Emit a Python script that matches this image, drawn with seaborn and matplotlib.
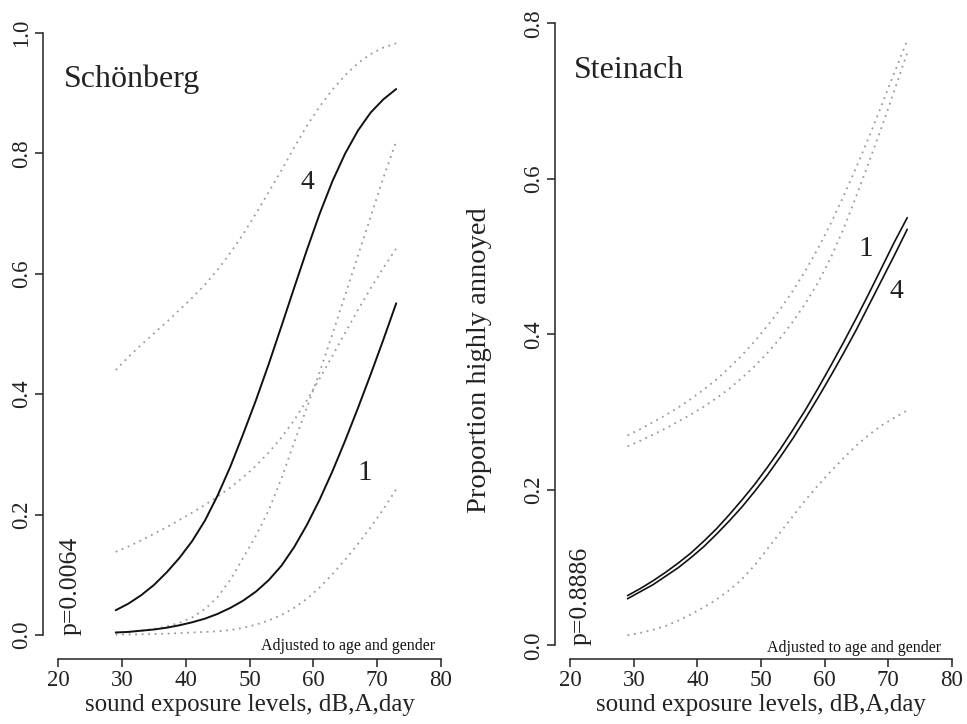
import numpy as np
import pandas as pd
import seaborn as sns
import matplotlib
matplotlib.use("Agg")
import matplotlib.pyplot as plt

# sound exposure levels (dB,A,day)
levels = [29, 31, 33, 35, 37, 39, 41, 43, 45, 47, 49, 51,
          53, 55, 57, 59, 61, 63, 65, 67, 69, 71, 73]

# Schönberg: predicted proportions + confidence bands
sch_4 = [0.041, 0.052, 0.066, 0.083, 0.104, 0.128, 0.156, 0.19, 0.232, 0.28, 0.334, 0.39,
         0.45, 0.513, 0.577, 0.64, 0.70, 0.754, 0.80, 0.838, 0.868, 0.89, 0.907]
sch_4_hi = [0.440, 0.462, 0.482, 0.501, 0.520, 0.540, 0.560, 0.582, 0.607, 0.635, 0.666, 0.700,
            0.736, 0.772, 0.810, 0.846, 0.878, 0.906, 0.930, 0.950, 0.965, 0.976, 0.983]
sch_4_lo = [0.138, 0.147, 0.157, 0.168, 0.179, 0.191, 0.203, 0.216, 0.230, 0.245, 0.262, 0.281,
            0.303, 0.328, 0.357, 0.390, 0.426, 0.464, 0.502, 0.540, 0.576, 0.610, 0.642]
sch_1 = [0.004, 0.005, 0.007, 0.009, 0.012, 0.016, 0.021, 0.027, 0.035, 0.045, 0.057, 0.072,
         0.091, 0.115, 0.146, 0.183, 0.225, 0.272, 0.323, 0.377, 0.433, 0.491, 0.551]
sch_1_hi = [0.004, 0.005, 0.007, 0.010, 0.014, 0.020, 0.029, 0.043, 0.063, 0.092, 0.128, 0.165,
            0.207, 0.260, 0.320, 0.378, 0.437, 0.500, 0.565, 0.630, 0.695, 0.760, 0.820]
sch_1_lo = [0.0005, 0.0008, 0.001, 0.0015, 0.002, 0.003, 0.004, 0.005, 0.006, 0.008, 0.012, 0.017,
            0.024, 0.033, 0.045, 0.060, 0.079, 0.101, 0.125, 0.151, 0.179, 0.209, 0.242]

# Steinach
ste_1 = [0.064, 0.073, 0.083, 0.094, 0.106, 0.119, 0.134, 0.15, 0.168, 0.187, 0.207, 0.229,
         0.252, 0.277, 0.303, 0.331, 0.36, 0.39, 0.421, 0.453, 0.486, 0.519, 0.55]
ste_4 = [0.060, 0.069, 0.078, 0.089, 0.1, 0.113, 0.127, 0.143, 0.16, 0.178, 0.198, 0.219,
         0.242, 0.266, 0.292, 0.319, 0.347, 0.376, 0.406, 0.438, 0.47, 0.502, 0.535]
ste_hi_a = [0.270, 0.278, 0.287, 0.296, 0.306, 0.317, 0.329, 0.342, 0.357, 0.373, 0.391, 0.411,
            0.432, 0.456, 0.482, 0.511, 0.543, 0.578, 0.615, 0.654, 0.695, 0.737, 0.778]
ste_hi_b = [0.256, 0.263, 0.271, 0.279, 0.288, 0.297, 0.307, 0.318, 0.330, 0.344, 0.359, 0.376,
            0.395, 0.416, 0.440, 0.467, 0.499, 0.536, 0.578, 0.622, 0.667, 0.714, 0.762]
ste_lo = [0.013, 0.016, 0.020, 0.025, 0.032, 0.040, 0.049, 0.059, 0.071, 0.085, 0.103, 0.124,
          0.145, 0.166, 0.187, 0.206, 0.224, 0.241, 0.257, 0.271, 0.283, 0.293, 0.302]

sns.set_theme(style="white")
plt.rcParams["font.family"] = ["Liberation Serif", "DejaVu Serif"]

fig = plt.figure(figsize=(9.67, 7.24), dpi=100)
ax1 = fig.add_axes([0.0445, 0.0898, 0.4272, 0.8978])
ax2 = fig.add_axes([0.574, 0.0898, 0.426, 0.884])

dot = dict(color="#9a9a9a", linewidth=1.3, linestyle=(0, (1, 2.6)))
solid = dict(color="#111111", linewidth=1.4)

def draw(ax, y, style):
    df = pd.DataFrame({"level": levels, "p": y})
    sns.lineplot(data=df, x="level", y="p", ax=ax, estimator=None, sort=False, **style)

for y in [sch_4_hi, sch_4_lo, sch_1_hi, sch_1_lo]:
    draw(ax1, y, dot)
for y in [sch_4, sch_1]:
    draw(ax1, y, solid)

for y in [ste_hi_a, ste_hi_b, ste_lo]:
    draw(ax2, y, dot)
for y in [ste_1, ste_4]:
    draw(ax2, y, dict(color="#111111", linewidth=1.2))

ax1.set_xlim(17.6, 82.4)
ax1.set_ylim(-0.04, 1.04)
ax1.set_yticks([0, 0.2, 0.4, 0.6, 0.8, 1.0])
ax1.spines["left"].set_bounds(0, 1)

ax2.set_xlim(17.6, 82.4)
ax2.set_ylim(-0.0175, 0.8055)
ax2.set_yticks([0, 0.2, 0.4, 0.6, 0.8])
ax2.spines["left"].set_bounds(0, 0.8)

for ax in (ax1, ax2):
    ax.set_xticks([20, 30, 40, 50, 60, 70, 80])
    ax.spines["bottom"].set_bounds(20, 80)
    ax.spines["top"].set_visible(False)
    ax.spines["right"].set_visible(False)
    for s in ("left", "bottom"):
        ax.spines[s].set_color("#222222")
        ax.spines[s].set_linewidth(1.1)
    ax.tick_params(axis="both", direction="out", length=5.5, width=1.1, color="#222222",
                   labelsize=16.5, labelcolor="#222222", pad=2.5, left=True, bottom=True)
    ax.set_yticklabels([f"{t:.1f}" for t in ax.get_yticks()], rotation=90, va="center")
    ax.set_xlabel("sound exposure levels, dB,A,day", fontsize=18, color="#222222", labelpad=2)
    ax.set_facecolor("white")

ax1.set_ylabel("")
ax2.set_ylabel("Proportion highly annoyed", fontsize=20.5, color="#222222")
ax2.yaxis.set_label_coords(-0.153, 0.467)

# panel annotations
ax1.text(20.8, 0.91, "Schönberg", fontsize=23, color="#222222")
ax2.text(20.5, 0.729, "Steinach", fontsize=23, color="#222222")
ax1.text(59.0, 0.752, "4", fontsize=20, ha="center", va="center", color="#222222")
ax1.text(68.1, 0.269, "1", fontsize=21, ha="center", va="center", color="#222222")
ax2.text(66.5, 0.51, "1", fontsize=21, ha="center", va="center", color="#222222")
ax2.text(71.3, 0.455, "4", fontsize=20, ha="center", va="center", color="#222222")
ax1.text(21.9, 0.0, "p=0.0064", rotation=90, fontsize=18.5, ha="center", va="bottom", color="#222222")
ax2.text(21.6, 0.0, "p=0.8886", rotation=90, fontsize=18.5, ha="center", va="bottom", color="#222222")
ax1.text(79.1, -0.025, "Adjusted to age and gender", fontsize=11.5, ha="right", va="baseline", color="#111111")
ax2.text(78.4, -0.009, "Adjusted to age and gender", fontsize=11.5, ha="right", va="baseline", color="#111111")

fig.savefig("out.png", dpi=100, facecolor="white")
